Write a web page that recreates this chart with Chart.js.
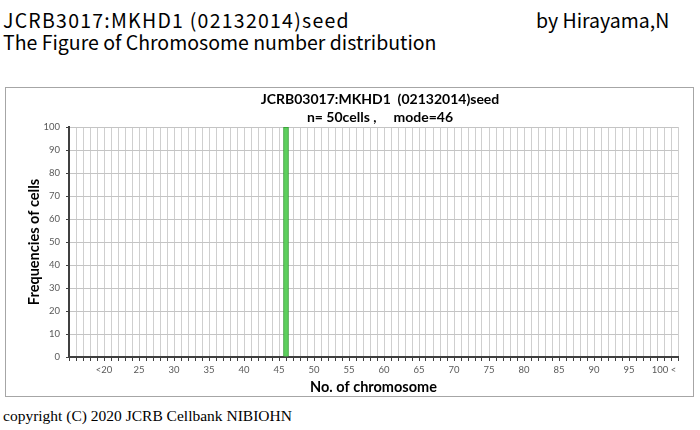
<!DOCTYPE html>
<html>
<head>
<meta charset="utf-8">
<script src="https://cdn.jsdelivr.net/npm/chart.js@4.4.1/dist/chart.umd.min.js"></script>
<style>
  html, body { margin: 0; padding: 0; background: #fff; }
  body { width: 700px; height: 430px; position: relative; overflow: hidden; }
  .hdr { position: absolute; font-family: "Noto Sans CJK JP", "Noto Sans", sans-serif; font-size: 19.5px; color: #000; white-space: pre; line-height: 1; }
  .box { position: absolute; left: 5px; top: 87px; width: 687px; height: 308px; border: 1px solid #a6a6a6; }
  .box canvas { position: absolute; left: 0; top: 0; }
  .ctitle { position: absolute; font-family: Lato, "Noto Sans", sans-serif; font-weight: bold; font-size: 14px; color: #000; white-space: pre; text-align: center; width: 400px; line-height: 1; }
  .copy { position: absolute; left: 3px; top: 407px; font-family: "Liberation Serif", serif; font-size: 15.5px; color: #000; white-space: pre; }
</style>
</head>
<body>
<div class="hdr" style="left:3px; top:10px; letter-spacing:1.25px;">JCRB3017:MKHD1 (02132014)seed</div>
<div class="hdr" style="left:536px; top:10px;">by Hirayama,N</div>
<div class="hdr" style="left:3px; top:32px;">The Figure of Chromosome number distribution</div>
<div class="box">
  <canvas id="c" width="687" height="308"></canvas>
  <div class="ctitle" style="left:174px; top:4px;">JCRB03017:MKHD1  (02132014)seed</div>
  <div class="ctitle" style="left:174px; top:22px;">n= 50cells ,     mode=46</div>
</div>
<div class="copy">copyright (C) 2020 JCRB Cellbank NIBIOHN</div>
<script>
// Chromosome numbers (categories on the x axis)
const chromosomeNumbers = [
  15, 16, 17, 18, 19, 20, 21, 22, 23, 24, 25, 26, 27, 28, 29, 30, 31, 32, 33, 34,
  35, 36, 37, 38, 39, 40, 41, 42, 43, 44, 45, 46, 47, 48, 49, 50, 51, 52, 53, 54,
  55, 56, 57, 58, 59, 60, 61, 62, 63, 64, 65, 66, 67, 68, 69, 70, 71, 72, 73, 74,
  75, 76, 77, 78, 79, 80, 81, 82, 83, 84, 85, 86, 87, 88, 89, 90, 91, 92, 93, 94,
  95, 96, 97, 98, 99, 100, 101, 102
];
// Frequencies of cells for each chromosome number
const frequencies = [
  0, 0, 0, 0, 0, 0, 0, 0, 0, 0, 0, 0, 0, 0, 0, 0, 0, 0, 0, 0,
  0, 0, 0, 0, 0, 0, 0, 0, 0, 0, 0, 100, 0, 0, 0, 0, 0, 0, 0, 0,
  0, 0, 0, 0, 0, 0, 0, 0, 0, 0, 0, 0, 0, 0, 0, 0, 0, 0, 0, 0,
  0, 0, 0, 0, 0, 0, 0, 0, 0, 0, 0, 0, 0, 0, 0, 0, 0, 0, 0, 0,
  0, 0, 0, 0, 0, 0, 0, 0
];
// X tick labels and the chromosome numbers they sit on
const tickPositions = [20, 25, 30, 35, 40, 45, 50, 55, 60, 65, 70, 75, 80, 85, 90, 95, 100];
const tickLabels = ['<20', '25', '30', '35', '40', '45', '50', '55', '60', '65', '70', '75', '80', '85', '90', '95', '100 <'];

const FONT = 'Lato, "Noto Sans", sans-serif';

new Chart(document.getElementById('c'), {
  type: 'bar',
  data: {
    labels: chromosomeNumbers.map(String),
    datasets: [{
      data: frequencies,
      backgroundColor: '#5ccf5c',
      borderColor: '#2e9a2e',
      borderWidth: 1,
      barThickness: 5
    }]
  },
  options: {
    responsive: false,
    animation: false,
    layout: { padding: { left: 0, top: 39, right: 15, bottom: 0 } },
    plugins: { legend: { display: false }, title: { display: false }, tooltip: { enabled: false } },
    scales: {
      x: {
        type: 'category',
        offset: false,
        grid: { offset: false, color: '#cfcfcf', lineWidth: 1, tickLength: 4, tickColor: '#404040', tickWidth: 1 },
        border: { color: '#404040', width: 2 },
        ticks: {
          autoSkip: false, maxRotation: 0, minRotation: 0, padding: 3,
          color: '#595959', font: { family: FONT, size: 9.5 },
          callback: function (value, index) {
            const n = chromosomeNumbers[index];
            const k = tickPositions.indexOf(n);
            return k >= 0 ? tickLabels[k] : '';
          }
        },
        title: {
          display: true, text: 'No. of chromosome', color: '#000',
          font: { family: FONT, size: 14.5, weight: 'bold' },
          padding: { top: 0, bottom: 0 }
        },
        afterFit: function (s) { s.height = 39; }
      },
      y: {
        min: 0, max: 100,
        ticks: { stepSize: 10, color: '#595959', font: { family: FONT, size: 9.5 }, padding: 6 },
        grid: { color: '#c4c4c4', lineWidth: 1, tickLength: 3, tickColor: '#404040' },
        border: { color: '#404040', width: 2 },
        title: {
          display: true, text: 'Frequencies of cells', color: '#000',
          font: { family: FONT, size: 14.5, weight: 'bold' },
          padding: { top: 20, bottom: 0 }
        },
        afterFit: function (s) { s.width = 63; }
      }
    }
  }
});
</script>
</body>
</html>
